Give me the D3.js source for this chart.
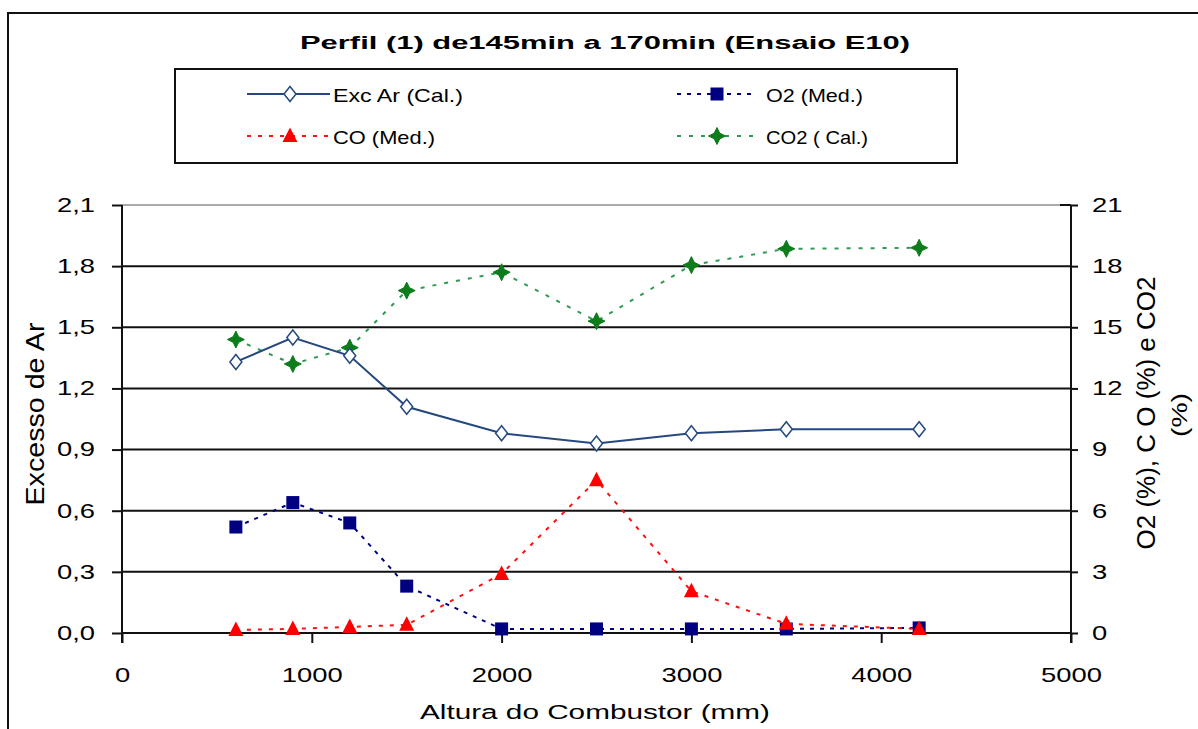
<!DOCTYPE html>
<html>
<head>
<meta charset="utf-8">
<script src="https://cdn.jsdelivr.net/npm/d3@7"></script>
<style>
  html, body { margin: 0; padding: 0; background: #fff; }
  svg { display: block; }
  text { font-family: "Liberation Sans", Arial, sans-serif; fill: #000; }
</style>
</head>
<body>
<svg id="chart" width="1198" height="729"></svg>
<script>
// ---------- data ----------
const title = "Perfil (1) de145min a 170min (Ensaio E10)";
const xTitle = "Altura do Combustor (mm)";
const yLeftTitle = "Excesso de Ar";
const yRightTitle1 = "O2 (%), C O (%) e CO2";
const yRightTitle2 = "(%)";

const heights = [600, 900, 1200, 1500, 2000, 2500, 3000, 3500, 4200];
const excAr  = [1.33, 1.45, 1.36, 1.11, 0.98, 0.93, 0.98, 1.00, 1.00];   // left axis
const o2     = [5.2, 6.4, 5.4, 2.3, 0.2, 0.2, 0.2, 0.2, 0.25];         // right axis
const co     = [0.15, 0.2, 0.3, 0.4, 2.9, 7.5, 2.05, 0.45, 0.2];        // right axis
const co2    = [14.4, 13.2, 14.0, 16.8, 17.7, 15.3, 18.05, 18.85, 18.9]; // right axis

const xTicks = [0, 1000, 2000, 3000, 4000, 5000];
const yLeftTicks = [0, 0.3, 0.6, 0.9, 1.2, 1.5, 1.8, 2.1];
const yRightTicks = [0, 3, 6, 9, 12, 15, 18, 21];

const seriesNames = ["Exc Ar (Cal.)", "O2 (Med.)", "CO (Med.)", "CO2 ( Cal.)"];

// ---------- setup ----------
const svg = d3.select("#chart");
const SX = 1.37; // horizontal stretch of glyphs (reference looks horizontally stretched)

const x  = d3.scaleLinear().domain([0, 5000]).range([122, 1071]);
const yL = d3.scaleLinear().domain([0, 2.1]).range([633, 205]);
const yR = d3.scaleLinear().domain([0, 21]).range([633, 205]);

// outer frame
svg.append("rect").attr("x", 8).attr("y", 13).attr("width", 1230).attr("height", 760)
  .attr("fill", "none").attr("stroke", "#111").attr("stroke-width", 2);

// title
svg.append("text").attr("x", 605).attr("y", 49).attr("text-anchor", "middle")
  .attr("font-size", 18).attr("font-weight", "bold")
  .attr("textLength", 610).attr("lengthAdjust", "spacingAndGlyphs").text(title);

// gridlines
svg.append("g").selectAll("line").data(yLeftTicks.filter(d => d > 0)).join("line")
  .attr("x1", x(0)).attr("x2", d => d === 2.1 ? 1060 : x(5000))
  .attr("y1", d => yL(d)).attr("y2", d => yL(d))
  .attr("stroke", d => d === 2.1 ? "#aaa" : "#111").attr("stroke-width", 2);

function stretchTexts(g) {
  g.selectAll("text").each(function() {
    const t = d3.select(this);
    const tx = +t.attr("x") || 0, ty = +t.attr("y") || 0;
    t.attr("x", null).attr("y", null)
     .attr("transform", `translate(${tx},${ty}) scale(${SX},1)`);
  });
}

// left axis
const gL = svg.append("g").attr("transform", `translate(${x(0)},0)`)
  .call(d3.axisLeft(yL).tickValues(yLeftTicks).tickSize(10).tickPadding(17)
    .tickFormat(d => d.toFixed(1).replace(".", ",")));
// right axis
const gR = svg.append("g").attr("transform", `translate(${x(5000)},0)`)
  .call(d3.axisRight(yR).tickValues(yRightTicks).tickSize(7).tickPadding(14)
    .tickFormat(d3.format("d")));
// bottom axis
const gB = svg.append("g").attr("transform", `translate(0,${yL(0)})`)
  .call(d3.axisBottom(x).tickValues(xTicks).tickSize(10).tickPadding(25)
    .tickFormat(d3.format("d")));

[gL, gR, gB].forEach(g => {
  g.selectAll(".domain").remove();
  g.selectAll("line").attr("stroke", "#111").attr("stroke-width", 2);
  g.selectAll("text").attr("font-size", 20).attr("font-family", "Liberation Sans, Arial, sans-serif").attr("fill", "#000");
  stretchTexts(g);
});
// axis lines
svg.append("line").attr("x1", x(0)).attr("x2", x(0)).attr("y1", yL(2.1)).attr("y2", yL(0) + 10)
  .attr("stroke", "#111").attr("stroke-width", 2);
svg.append("line").attr("x1", x(5000)).attr("x2", x(5000)).attr("y1", yL(2.1)).attr("y2", yL(0) + 10)
  .attr("stroke", "#111").attr("stroke-width", 2);
svg.append("line").attr("x1", x(0)).attr("x2", x(5000)).attr("y1", yL(0)).attr("y2", yL(0))
  .attr("stroke", "#111").attr("stroke-width", 2);
svg.append("line").attr("x1", 1060).attr("x2", x(5000)).attr("y1", yL(2.1)).attr("y2", yL(2.1))
  .attr("stroke", "#111").attr("stroke-width", 2);

// axis titles
svg.append("text").attr("transform", `translate(44,414) scale(${SX},1) rotate(-90)`)
  .attr("text-anchor", "middle").attr("font-size", 19)
  .attr("textLength", 183).attr("lengthAdjust", "spacingAndGlyphs").text(yLeftTitle);
svg.append("text").attr("transform", `translate(1155,413) scale(${SX},1) rotate(-90)`)
  .attr("text-anchor", "middle").attr("font-size", 19)
  .attr("textLength", 273).attr("lengthAdjust", "spacingAndGlyphs").text(yRightTitle1);
svg.append("text").attr("transform", `translate(1187,415) scale(1.2,1) rotate(-90)`)
  .attr("text-anchor", "middle").attr("font-size", 19)
  .attr("textLength", 44).attr("lengthAdjust", "spacingAndGlyphs").text(yRightTitle2);
svg.append("text").attr("x", 595).attr("y", 719).attr("text-anchor", "middle")
  .attr("font-size", 20).attr("textLength", 350).attr("lengthAdjust", "spacingAndGlyphs").text(xTitle);

// ---------- marker shapes ----------
const shapes = {
  diamond: "M0,-7.5L6,0L0,7.5L-6,0Z",
  square: "M-6.5,-6.5H6.5V6.5H-6.5Z",
  triangle: "M0,-8.5L7.5,6L-7.5,6Z",
  star: "M0,-8.5L2.8,-2.8L8.5,0L2.8,2.8L0,8.5L-2.8,2.8L-8.5,0L-2.8,-2.8Z"
};

const series = [
  { name: seriesNames[0], vals: excAr, y: yL, line: "#24487f", dash: null, lw: 2, shape: "diamond", fill: "#fff", stroke: "#24487f" },
  { name: seriesNames[1], vals: o2, y: yR, line: "#000080", dash: "4,6", lw: 2, shape: "square", fill: "#000080", stroke: "none" },
  { name: seriesNames[2], vals: co, y: yR, line: "#ff1010", dash: "4,7", lw: 2, shape: "triangle", fill: "#ff0000", stroke: "none" },
  { name: seriesNames[3], vals: co2, y: yR, line: "#2f9a55", dash: "4,8", lw: 2, shape: "star", fill: "#0d7d1c", stroke: "#0d7d1c" }
];

const plot = svg.append("g");
// draw order: CO2, Exc Ar, O2, CO
[series[3], series[0], series[1], series[2]].forEach(s => {
  const pts = heights.map((h, i) => [h, s.vals[i]]);
  const line = d3.line().x(d => x(d[0])).y(d => s.y(d[1]));
  plot.append("path").attr("d", line(pts)).attr("fill", "none")
    .attr("stroke", s.line).attr("stroke-width", s.lw)
    .attr("stroke-dasharray", s.dash);
  plot.append("g").selectAll("path").data(pts).join("path")
    .attr("transform", d => `translate(${x(d[0])},${s.y(d[1])})`)
    .attr("d", shapes[s.shape]).attr("fill", s.fill)
    .attr("stroke", s.stroke).attr("stroke-width", s.shape === "star" ? 1 : 1.5);
});

// ---------- legend ----------
svg.append("rect").attr("x", 175).attr("y", 69).attr("width", 782).attr("height", 94)
  .attr("fill", "none").attr("stroke", "#111").attr("stroke-width", 2);
const legendPos = [
  { lx0: 247, lx1: 330, mx: 290, tx: 333, ty: 94, tw: 130 },
  { lx0: 677, lx1: 755, mx: 717, tx: 766, ty: 94, tw: 97 },
  { lx0: 247, lx1: 330, mx: 290, tx: 333, ty: 136, tw: 102 },
  { lx0: 677, lx1: 755, mx: 717, tx: 766, ty: 136, tw: 102 }
];
series.forEach((s, i) => {
  const p = legendPos[i];
  const g = svg.append("g");
  g.append("line").attr("x1", p.lx0).attr("x2", p.lx1).attr("y1", p.ty).attr("y2", p.ty)
    .attr("stroke", s.line).attr("stroke-width", s.lw).attr("stroke-dasharray", s.dash);
  g.append("path").attr("transform", `translate(${p.mx},${p.ty})`).attr("d", shapes[s.shape])
    .attr("fill", s.fill).attr("stroke", s.stroke).attr("stroke-width", s.shape === "star" ? 1 : 1.5);
  g.append("text").attr("x", p.tx).attr("y", p.ty + 8).attr("font-size", 19)
    .attr("textLength", p.tw).attr("lengthAdjust", "spacingAndGlyphs").text(s.name);
});
</script>
</body>
</html>
